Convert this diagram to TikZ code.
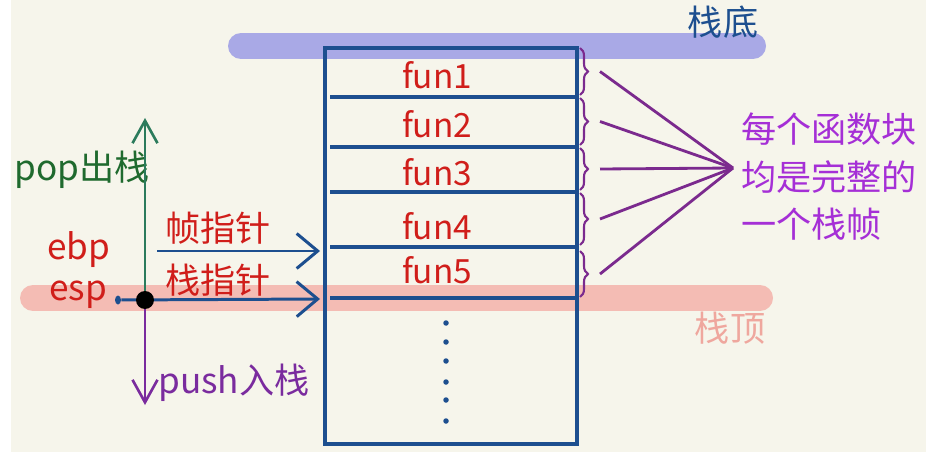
\documentclass[tikz,border=0pt]{standalone}
\usepackage{fontspec}
\setmainfont{Noto Sans CJK SC}
\usetikzlibrary{arrows.meta, decorations.pathreplacing, positioning, shapes.geometric}
\definecolor{paper}{HTML}{F6F5EB}
\definecolor{bandblue}{HTML}{A9A9E6}
\definecolor{bandpink}{HTML}{F4BCB4}
\definecolor{stackblue}{HTML}{1D4F8F}
\definecolor{funred}{HTML}{D01E1A}
\definecolor{popgreen}{HTML}{1F6A2E}
\definecolor{arrowgreen}{HTML}{2B7B5C}
\definecolor{pushpurple}{HTML}{7A2B9E}
\definecolor{bracepurple}{HTML}{7B2A8E}
\definecolor{notepurple}{HTML}{A52FD6}
\definecolor{toppink}{HTML}{EFA79E}
\tikzset{
  txt/.style={font=\fontsize{20}{24}\selectfont, inner sep=0pt},
  funlbl/.style={txt, text=funred, font=\fontsize{19}{23}\selectfont},
  band/.style={line width=0.52cm, line cap=round},
  ptr/.style={-{Straight Barb[length=0.42cm, width=0.7cm]}, draw=stackblue, line width=1.7pt},
  dirarrow/.style={-{Straight Barb[length=0.45cm, width=0.5cm]}, line width=1.5pt},
  brace/.style={decorate, decoration={brace, amplitude=0.16cm}, draw=bracepurple, line width=1.2pt},
  link/.style={draw=bracepurple, line width=1.6pt},
}
\begin{document}
\begin{tikzpicture}[x=0.02cm, y=-0.02cm]
\useasboundingbox (0,0) rectangle (926,456);
\fill[white] (0,0) rectangle (926,456);
\fill[paper] (11,0) rectangle (926,452);
% bottom and top of the stack
\draw[band, bandblue] (241,46) -- (753,46);
\draw[band, bandpink] (33,298) -- (760,298);
\node[txt, text=stackblue] (bottom) at (723,22) {栈底};
\node[txt, text=toppink] (top) at (730,328) {栈顶};
% the stack
\draw[stackblue, line width=1.8pt] (325,48) rectangle (577,444);
\foreach \y in {97,147,192,247,298}
  \draw[stackblue, line width=1.8pt] (330,\y) -- (577,\y);
\foreach \y in {323,342,361,382,400,421}
  \fill[stackblue] (446,\y) circle (0.055cm);
\foreach \i/\y in {1/75,2/124,3/172,4/226,5/270}
  \node[funlbl] (f\i) at (437,\y) {fun\i};
% frames
\foreach \i/\a/\b in {1/48/95,2/98/145,3/148/190,4/193/245,5/251/297}{
  \draw[brace] (580,\a) -- (580,\b);
  \coordinate (t\i) at (600,{(\a+\b)/2});
}
\coordinate (hub) at (733,168);
\foreach \i in {1,...,5}
  \draw[link] (t\i) -- (hub);
\node[txt, text=notepurple, anchor=west, align=left, font=\fontsize{20}{27}\selectfont] (note) at (741,177) {每个函数块\\均是完整的\\一个栈帧};
% pointers
\node[txt, text=popgreen] (pop) at (82,170) {pop出栈};
\node[txt, text=funred] (ebp) at (79,250) {ebp};
\node[txt, text=funred] (esp) at (78,295) {esp};
\node[txt, text=funred] (fp) at (218,228) {帧指针};
\node[txt, text=funred] (sptr) at (218,280) {栈指针};
\node[txt, text=pushpurple, anchor=west] (push) at (158,383) {push入栈};
\node[ellipse, fill=stackblue, inner sep=0pt, minimum width=0.12cm, minimum height=0.18cm] (espdot) at (118,300) {};
\coordinate (pivot) at (145,300);
\coordinate (ebpfrom) at (157,251);
\coordinate (ebpto) at (320,251);
\coordinate (espto) at (320,299);
\coordinate (popto) at (145,118);
\coordinate (pushto) at (145,405);
\draw[dirarrow, arrowgreen] (pivot) -- (popto);
\draw[dirarrow, pushpurple] (pivot) -- (pushto);
\draw[ptr] (ebpfrom) -- (ebpto);
\draw[ptr] (espdot) -- (espto);
\node[circle, fill=black, inner sep=0pt, minimum size=0.36cm] (sp) at (pivot) {};
\end{tikzpicture}
\end{document}
